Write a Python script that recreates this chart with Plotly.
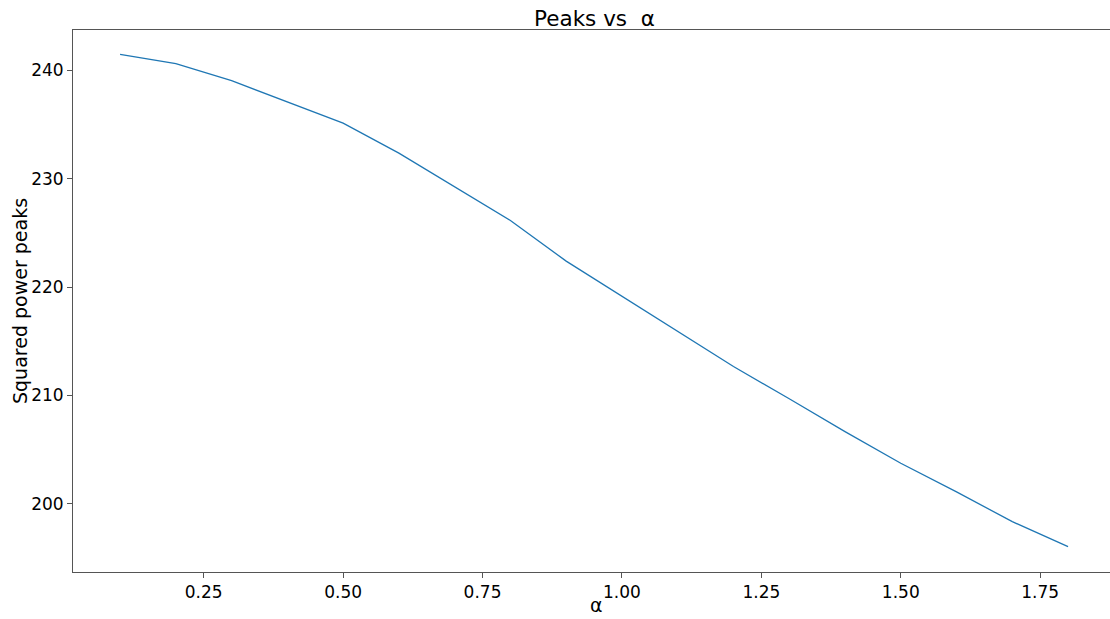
import plotly.graph_objects as go

alpha = [0.1, 0.2, 0.3, 0.4, 0.5, 0.6, 0.7, 0.8, 0.9, 1.0, 1.1, 1.2, 1.3, 1.4, 1.5, 1.6, 1.7, 1.8]
peaks = [241.48, 240.62, 239.05, 237.1, 235.14, 232.37, 229.3, 226.15, 222.4, 219.13,
         215.9, 212.67, 209.7, 206.67, 203.75, 201.1, 198.36, 196.05]

x_ticks = [0.25, 0.5, 0.75, 1.0, 1.25, 1.5, 1.75]
x_tick_labels = ["0.25", "0.50", "0.75", "1.00", "1.25", "1.50", "1.75"]
y_ticks = [200, 210, 220, 230, 240]
y_tick_labels = ["200", "210", "220", "230", "240"]

font = "DejaVu Sans"
spine = "#555555"

fig = go.Figure()
fig.add_trace(go.Scatter(x=alpha, y=peaks, mode="lines",
                         line=dict(color="#1f77b4", width=1.3), showlegend=False))

fig.update_layout(
    width=1110, height=619,
    margin=dict(l=73, r=0, t=30, b=47),
    paper_bgcolor="white", plot_bgcolor="white",
    font=dict(family=font, size=17, color="black"),
    title=dict(text="Peaks vs  α", x=594.5/1110, xref="container", xanchor="center",
               y=1 - 18/619, yref="container", yanchor="middle",
               font=dict(family=font, size=21.5, color="black")),
)
fig.add_annotation(text="Squared power peaks", textangle=-90, showarrow=False,
                   xref="paper", yref="paper", x=(20 - 73) / 1037, y=0.5,
                   xanchor="center", yanchor="middle",
                   font=dict(family=font, size=19, color="black"))
fig.add_annotation(text="α", showarrow=False,
                   xref="paper", yref="paper", x=(596 - 73) / 1037, y=-(605 - 572) / 542,
                   xanchor="center", yanchor="middle",
                   font=dict(family=font, size=19, color="black"))
fig.update_xaxes(
    range=[0.0156, 1.8752], tickvals=x_ticks, ticktext=x_tick_labels,
    showgrid=False, zeroline=False, showline=True, linecolor=spine, linewidth=1,
    mirror=True, ticks="outside", ticklen=5, tickcolor=spine,
    tickfont=dict(family=font, size=17, color="black"),
)
fig.update_yaxes(
    range=[193.71, 243.73], tickvals=y_ticks, ticktext=y_tick_labels,
    showgrid=False, zeroline=False, showline=True, linecolor=spine, linewidth=1,
    mirror=False, ticks="outside", ticklen=5, tickcolor=spine,
    tickfont=dict(family=font, size=17, color="black"),
)

fig.write_html("out.html")
